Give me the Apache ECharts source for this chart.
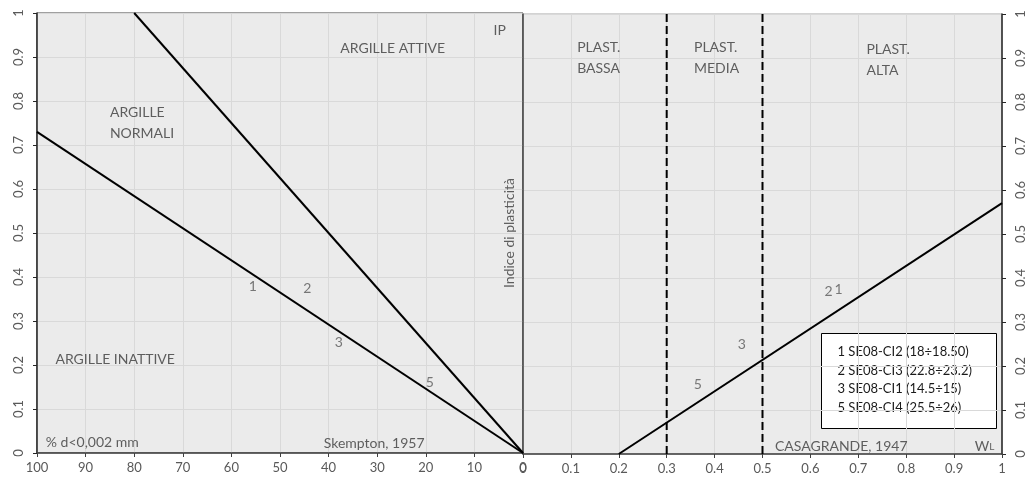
<!DOCTYPE html>
<html>
<head>
<meta charset="utf-8">
<script src="https://cdn.jsdelivr.net/npm/echarts@6/dist/echarts.min.js"></script>
<style>
  html, body { margin: 0; padding: 0; background: #ffffff; }
  #chart { width: 1027px; height: 480px; }
</style>
</head>
<body>
<div id="chart"></div>
<script>
// Skempton activity chart (left) and Casagrande plasticity chart (right)

// Skempton activity lines: clay fraction (%) vs plasticity index
const inactiveLineClay = [100, 0];
const inactiveLineIP = [0.73, 0];
const activeLineClay = [80, 0];
const activeLineIP = [1, 0];

// Casagrande A-line: liquid limit vs plasticity index
const aLineWL = [0.2, 1];
const aLineIP = [0, 0.57];

// Plasticity class boundaries (liquid limit)
const plasticityBounds = [0.3, 0.5];

// Samples
const sampleIds = ['1', '2', '3', '5'];
const sampleClay = [55.6, 44.4, 37.9, 19.2];
const sampleClayIP = [0.379, 0.373, 0.251, 0.160];
const sampleWL = [0.659, 0.638, 0.457, 0.365];
const sampleIP = [0.375, 0.370, 0.250, 0.157];

const legendLines = [
  '1 SE08-CI2 (18÷18.50)',
  '2 SE08-CI3 (22.8÷23.2)',
  '3 SE08-CI1 (14.5÷15)',
  '5 SE08-CI4 (25.5÷26)'
];

// Region captions on the activity chart: text, clay %, IP, alignment
const skemptonTexts = ['ARGILLE ATTIVE', 'IP', 'ARGILLE\nNORMALI', 'ARGILLE INATTIVE', '% d<0,002 mm', 'Skempton, 1957'];
const skemptonTextX = [26.8, 4.8, 85.0, 96.2, 98.2, 41.0];
const skemptonTextY = [0.919, 0.96, 0.751, 0.212, 0.0235, 0.021];
const skemptonTextAlign = ['center', 'center', 'left', 'left', 'left', 'left'];

// Region captions on the plasticity chart
const casaTexts = ['PLAST.\nBASSA', 'PLAST.\nMEDIA', 'PLAST.\nALTA', 'CASAGRANDE, 1947', '{w|W}{l|L}'];
const casaTextX = [0.113, 0.357, 0.717, 0.526, 0.943];
const casaTextY = [0.899, 0.899, 0.895, 0.018, 0.018];

const FONT = 'Lato';
const TEXT_COLOR = '#3a3a3a';
const TICK_COLOR = '#595959';

function pairs(xs, ys) { return xs.map((x, i) => [x, ys[i]]); }

function captionSeries(texts, xs, ys, aligns, xi, yi) {
  return {
    type: 'scatter', xAxisIndex: xi, yAxisIndex: yi, symbolSize: 0, silent: true, z: 5,
    data: texts.map((t, i) => ({
      value: [xs[i], ys[i]],
      label: {
        show: true, position: 'inside', formatter: t,
        align: aligns ? aligns[i] : 'left', verticalAlign: 'middle',
        color: TEXT_COLOR, fontFamily: FONT, fontSize: 14, lineHeight: 21,
        rich: {
          w: { fontSize: 14, lineHeight: 16, color: TEXT_COLOR, fontFamily: FONT },
          l: { fontSize: 10, lineHeight: 12, color: TEXT_COLOR, fontFamily: FONT, verticalAlign: 'middle', padding: [2, 0, 0, 0] }
        }
      }
    }))
  };
}

function sampleSeries(xs, ys, xi, yi) {
  return {
    type: 'scatter', xAxisIndex: xi, yAxisIndex: yi, symbolSize: 0, silent: true, z: 6,
    data: sampleIds.map((id, i) => ({
      value: [xs[i], ys[i]],
      label: {
        show: true, position: 'inside', formatter: id,
        color: TICK_COLOR, fontFamily: FONT, fontSize: 14
      }
    }))
  };
}

const axisLabelBase = { color: TICK_COLOR, fontFamily: FONT, fontSize: 13 };
const splitLine = { show: true, lineStyle: { color: '#d9d9d9', width: 1 } };

const chart = echarts.init(document.getElementById('chart'), null, { renderer: 'canvas' });

chart.setOption({
  animation: false,
  backgroundColor: '#ffffff',
  grid: [
    { left: 37, right: 504, top: 13, bottom: 27, show: true, backgroundColor: '#ebebeb', borderColor: '#404040', borderWidth: 1 },
    { left: 523, right: 17, top: 14, bottom: 26, show: true, backgroundColor: '#ebebeb', borderColor: '#a6a6a6', borderWidth: 1 }
  ],
  xAxis: [
    {
      gridIndex: 0, type: 'value', min: 0, max: 100, interval: 10, inverse: true,
      axisLine: { show: true, onZero: false, lineStyle: { color: '#404040', width: 1.5 } },
      axisTick: { show: true, length: 4, lineStyle: { color: '#404040' } },
      axisLabel: Object.assign({ margin: 8 }, axisLabelBase),
      splitLine: splitLine
    },
    {
      gridIndex: 1, type: 'value', min: 0, max: 1, interval: 0.1,
      axisLine: { show: true, onZero: false, lineStyle: { color: '#404040', width: 1.5 } },
      axisTick: { show: true, length: 4, lineStyle: { color: '#404040' } },
      axisLabel: Object.assign({ margin: 8 }, axisLabelBase),
      splitLine: splitLine
    }
  ],
  yAxis: [
    {
      gridIndex: 0, type: 'value', min: 0, max: 1, interval: 0.1, position: 'left',
      axisLine: { show: true, onZero: false, lineStyle: { color: '#262626', width: 1.5 } },
      axisTick: { show: true, length: 4, lineStyle: { color: '#262626' } },
      axisLabel: Object.assign({ margin: 12, rotate: 90 }, axisLabelBase),
      splitLine: splitLine
    },
    {
      gridIndex: 1, type: 'value', min: 0, max: 1, interval: 0.1, position: 'right',
      axisLine: { show: true, onZero: false, lineStyle: { color: '#262626', width: 1.5 } },
      axisTick: { show: true, length: 4, lineStyle: { color: '#262626' } },
      axisLabel: Object.assign({ margin: 12, rotate: 90 }, axisLabelBase),
      splitLine: splitLine
    },
    {
      // shared divider between the two panels
      gridIndex: 1, type: 'value', min: 0, max: 1, position: 'left',
      axisLine: { show: true, onZero: false, lineStyle: { color: '#404040', width: 1.5 } },
      axisTick: { show: false }, axisLabel: { show: false }, splitLine: { show: false }
    }
  ],
  series: [
    {
      type: 'line', xAxisIndex: 0, yAxisIndex: 0, symbol: 'none', silent: true,
      data: pairs(inactiveLineClay, inactiveLineIP),
      lineStyle: { color: '#000000', width: 2 }
    },
    {
      type: 'line', xAxisIndex: 0, yAxisIndex: 0, symbol: 'none', silent: true,
      data: pairs(activeLineClay, activeLineIP),
      lineStyle: { color: '#000000', width: 2 }
    },
    {
      type: 'line', xAxisIndex: 1, yAxisIndex: 1, symbol: 'none', silent: true,
      data: pairs(aLineWL, aLineIP),
      lineStyle: { color: '#000000', width: 2 }
    },
    ...plasticityBounds.map(b => ({
      type: 'line', xAxisIndex: 1, yAxisIndex: 1, symbol: 'none', silent: true,
      data: [[b, 0], [b, 1]],
      lineStyle: { color: '#000000', width: 2, type: [8, 4] }
    })),
    sampleSeries(sampleClay, sampleClayIP, 0, 0),
    sampleSeries(sampleWL, sampleIP, 1, 1),
    captionSeries(skemptonTexts, skemptonTextX, skemptonTextY, skemptonTextAlign, 0, 0),
    captionSeries(casaTexts, casaTextX, casaTextY, null, 1, 1),
    {
      type: 'scatter', xAxisIndex: 0, yAxisIndex: 0, symbolSize: 0, silent: true, z: 5,
      data: [{
        value: [2.7, 0.5],
        label: {
          show: true, position: 'inside', formatter: 'Indice di plasticità', rotate: 90,
          color: TEXT_COLOR, fontFamily: FONT, fontSize: 14
        }
      }]
    }
  ],
  graphic: [
    {
      type: 'group', left: 821, top: 333, z: 100,
      children: [
        { type: 'rect', shape: { x: 0, y: 0, width: 175, height: 95 }, style: { fill: '#ffffff', stroke: '#000000', lineWidth: 1 } }
      ].concat(legendLines.map((line, i) => ({
        type: 'text', x: 16, y: 18.5 + i * 18.5,
        style: {
          text: line, fill: '#1a1a1a', fontFamily: FONT, fontSize: 13,
          verticalAlign: 'middle', align: 'left'
        }
      })))
    }
  ]
});
</script>
</body>
</html>
